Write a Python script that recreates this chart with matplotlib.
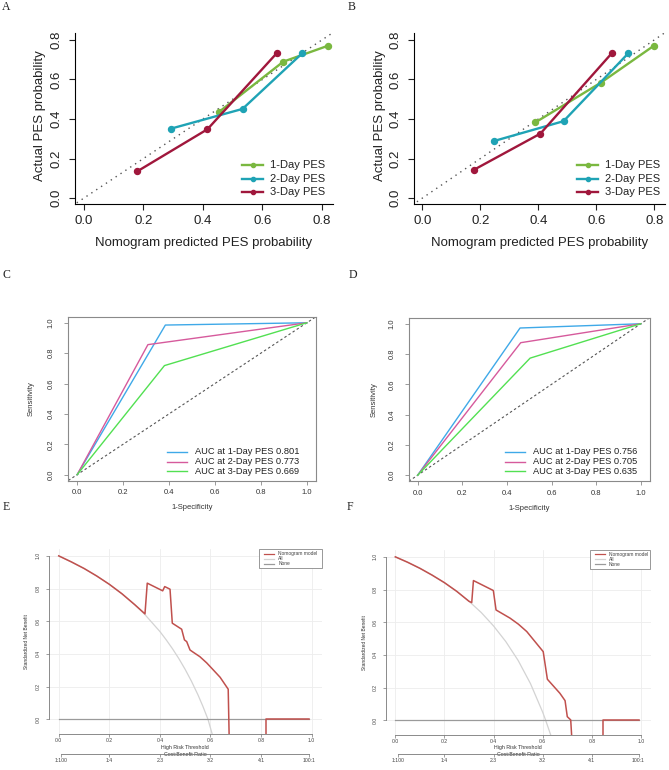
import matplotlib
matplotlib.use('Agg')
import matplotlib.pyplot as plt
from matplotlib.lines import Line2D
from matplotlib.patches import Rectangle

plt.rcParams['font.family'] = ['Liberation Sans', 'DejaVu Sans']

# ---------------- data ----------------
series_names = ['1-Day PES', '2-Day PES', '3-Day PES']

# Calibration, panel A
a_1d_x = [0.455, 0.670, 0.821]; a_1d_y = [0.437, 0.690, 0.771]
a_2d_x = [0.292, 0.533, 0.734]; a_2d_y = [0.351, 0.451, 0.733]
a_3d_x = [0.179, 0.415, 0.648]; a_3d_y = [0.135, 0.348, 0.733]
# Calibration, panel B
b_1d_x = [0.390, 0.616, 0.798]; b_1d_y = [0.383, 0.584, 0.770]
b_2d_x = [0.248, 0.487, 0.710]; b_2d_y = [0.289, 0.389, 0.732]
b_3d_x = [0.179, 0.407, 0.653]; b_3d_y = [0.144, 0.326, 0.732]
calib_ticks = [0.0, 0.2, 0.4, 0.6, 0.8]

# ROC, panel C
c_fpr = [[0, 0.384, 1], [0, 0.308, 1], [0, 0.380, 1]]
c_tpr = [[0, 0.985, 1], [0, 0.856, 1], [0, 0.718, 1]]
c_auc = ['0.801', '0.773', '0.669']
# ROC, panel D
d_fpr = [[0, 0.459, 1], [0, 0.462, 1], [0, 0.504, 1]]
d_tpr = [[0, 0.972, 1], [0, 0.875, 1], [0, 0.773, 1]]
d_auc = ['0.756', '0.705', '0.635']
roc_ticks = [0.0, 0.2, 0.4, 0.6, 0.8, 1.0]

# Decision curves, panel E
e_all_x = [0, 0.05, 0.1, 0.15, 0.2, 0.25, 0.3, 0.34, 0.4, 0.425, 0.45, 0.475, 0.5, 0.525, 0.55, 0.57, 0.59, 0.607]
e_all_y = [1.0, 0.963, 0.923, 0.877, 0.826, 0.768, 0.702, 0.642, 0.537, 0.486, 0.431, 0.371, 0.305, 0.232, 0.151, 0.079, 0.0, -0.092]
e_nom_x = [0, 0.05, 0.1, 0.15, 0.2, 0.25, 0.3, 0.341, 0.350, 0.411, 0.419, 0.440, 0.449, 0.486, 0.497,
           0.506, 0.519, 0.532, 0.558, 0.585, 0.611, 0.638, 0.670, 0.675]
e_nom_y = [1.0, 0.963, 0.923, 0.877, 0.826, 0.768, 0.702, 0.645, 0.833, 0.786, 0.812, 0.796, 0.588, 0.551, 0.486,
           0.475, 0.424, 0.410, 0.383, 0.345, 0.302, 0.257, 0.184, -0.20]
e_nom2_x = [0.818, 0.818, 0.99]
e_nom2_y = [-0.20, 0.0, 0.0]
# Decision curves, panel F
f_all_x = [0, 0.05, 0.1, 0.15, 0.2, 0.25, 0.3, 0.35, 0.4, 0.45, 0.5, 0.55, 0.6, 0.612, 0.633]
f_all_y = [1.0, 0.967, 0.930, 0.888, 0.842, 0.789, 0.728, 0.659, 0.577, 0.481, 0.366, 0.225, 0.049, 0.0, -0.092]
f_nom_x = [0, 0.05, 0.1, 0.15, 0.2, 0.25, 0.3, 0.311, 0.318, 0.399, 0.410, 0.467, 0.501, 0.535, 0.602,
           0.619, 0.670, 0.691, 0.700, 0.714, 0.722]
f_nom_y = [1.0, 0.967, 0.930, 0.888, 0.842, 0.789, 0.728, 0.720, 0.855, 0.794, 0.675, 0.625, 0.588, 0.543, 0.420,
           0.251, 0.165, 0.120, 0.022, 0.002, -0.20]
f_nom2_x = [0.847, 0.847, 0.99]
f_nom2_y = [-0.20, 0.0, 0.0]
none_x = [0, 0.99]; none_y = [0, 0]
dca_ticks = [0.0, 0.2, 0.4, 0.6, 0.8, 1.0]
cb_ticks = [0.01, 0.2, 0.4, 0.6, 0.8, 0.99]
cb_labels = ['1:100', '1:4', '2:3', '3:2', '4:1', '100:1']
dca_names = ['Nomogram model', 'All', 'None']

# ---------------- style ----------------
calib_colors = ['#7AB840', '#1FA3B5', '#A0173C']
roc_colors = ['#3FA9E8', '#D65A9C', '#52E052']
dca_colors = ['#C0504D', '#D3D3D3', '#9A9A9A']

W, H = 669, 770
fig = plt.figure(figsize=(W / 100, H / 100), dpi=100)


def add_ax(l, t, r, b):
    return fig.add_axes([l / W, 1 - b / H, (r - l) / W, (b - t) / H])


def fx(x):
    return x / W


def fy(y):
    return 1 - y / H


def rot_yticks(ax):
    for lab in ax.get_yticklabels():
        lab.set_rotation(90)
        lab.set_va('center')


# ---------------- calibration panels ----------------
def calib(box, xs, ys, xlim, ylabx, leg_x0):
    l, t, r, b = box
    ax = add_ax(l, t, r, b)
    ax.plot([-1, 2], [-1, 2], linestyle=(0, (1, 3.2)), color='#555555', lw=1.0)
    for x, y, col in zip(xs, ys, calib_colors):
        ax.plot(x, y, '-o', color=col, lw=1.7, ms=4.3)
    ax.set_xlim(xlim)
    ax.set_ylim(-0.030, 0.835)
    ax.spines['top'].set_visible(False)
    ax.spines['right'].set_visible(False)
    for s in ('left', 'bottom'):
        ax.spines[s].set_linewidth(0.8)
    ax.set_xticks(calib_ticks)
    ax.set_yticks(calib_ticks)
    ax.tick_params(labelsize=9.5, length=4, width=0.8, direction='out', colors='#222222')
    ax.tick_params(axis='x', pad=4)
    ax.tick_params(axis='y', pad=5)
    rot_yticks(ax)
    ax.set_xlabel('Nomogram predicted PES probability', fontsize=9.5, color='#222222')
    ax.xaxis.set_label_coords(0.5, (b - 243) / (b - t))
    ax.xaxis.label.set_va('center')
    ax.set_ylabel('Actual PES probability', fontsize=9.5, color='#222222')
    ax.yaxis.set_label_coords((ylabx - l) / (r - l), (b - 116) / (b - t))
    ax.yaxis.label.set_va('center')
    # legend
    for name, col, yy in zip(series_names, calib_colors, [165.3, 179.0, 191.7]):
        fig.add_artist(Line2D([fx(leg_x0), fx(leg_x0 + 21)], [fy(yy), fy(yy)], color=col, lw=1.7))
        fig.add_artist(Line2D([fx(leg_x0 + 10.5)], [fy(yy)], color=col, marker='o', ms=3.0))
        fig.text(fx(leg_x0 + 28), fy(yy), name, fontsize=8, va='center', ha='left', color='#222222')
    return ax


calib((75, 33, 333, 204), [a_1d_x, a_2d_x, a_3d_x], [a_1d_y, a_2d_y, a_3d_y], (-0.030, 0.837), 40, 242)
calib((414, 33, 665, 204), [b_1d_x, b_2d_x, b_3d_x], [b_1d_y, b_2d_y, b_3d_y], (-0.029, 0.837), 380, 577)


# ---------------- ROC panels ----------------
def roc(box, fprs, tprs, aucs, ylabx, leg_x0):
    l, t, r, b = box
    ax = add_ax(l, t, r, b)
    ax.plot([-1, 2], [-1, 2], linestyle=(0, (2.2, 2.2)), color='#555555', lw=0.8)
    for x, y, col in zip(fprs, tprs, roc_colors):
        ax.plot(x, y, '-', color=col, lw=1.0)
    ax.set_xlim(-0.04, 1.04)
    ax.set_ylim(-0.04, 1.04)
    for s in ax.spines.values():
        s.set_color('#8A8A8A')
        s.set_linewidth(0.8)
    ax.set_xticks(roc_ticks)
    ax.set_yticks(roc_ticks)
    ax.tick_params(labelsize=5.5, length=3, width=0.6, direction='out', colors='#8A8A8A',
                   labelcolor='#333333')
    ax.tick_params(axis='x', pad=3)
    ax.tick_params(axis='y', pad=6.5)
    rot_yticks(ax)
    ax.set_xlabel('1-Specificity', fontsize=5.5, color='#333333')
    ax.xaxis.set_label_coords(0.5, (b - 508) / (b - t))
    ax.xaxis.label.set_va('center')
    ax.set_ylabel('Sensitivity', fontsize=5.5, color='#333333')
    ax.yaxis.set_label_coords((ylabx - l) / (r - l), 0.5)
    ax.yaxis.label.set_va('center')
    for name, auc, col, yy in zip(series_names, aucs, roc_colors, [452.0, 461.7, 471.3]):
        fig.add_artist(Line2D([fx(leg_x0), fx(leg_x0 + 20)], [fy(yy), fy(yy)], color=col, lw=1.0))
        fig.text(fx(leg_x0 + 28), fy(yy), 'AUC at ' + name + ' ' + auc, fontsize=6.7,
                 va='center', ha='left', color='#222222')
    return ax


roc((68, 316.7, 316, 480.7), c_fpr, c_tpr, c_auc, 31, 167)
roc((408.7, 317.7, 649.7, 481.3), d_fpr, d_tpr, d_auc, 374, 505)


# ---------------- decision curve panels ----------------
def dca(box, all_x, all_y, nom_x, nom_y, nom2_x, nom2_y, ylabx, legbox):
    l, t, r, b = box
    ax = add_ax(l, t, r, b)
    ax.set_xlim(-0.04, 1.04)
    ax.set_ylim(-0.092, 1.042)
    ax.set_xticks(dca_ticks)
    ax.set_yticks(dca_ticks)
    ax.grid(True, color='#EDEDED', lw=0.6)
    ax.set_axisbelow(True)
    ax.plot(all_x, all_y, color=dca_colors[1], lw=0.9)
    ax.plot(none_x, none_y, color=dca_colors[2], lw=0.9)
    ax.plot(nom_x, nom_y, color=dca_colors[0], lw=1.1)
    ax.plot(nom2_x, nom2_y, color=dca_colors[0], lw=1.1)
    ax.spines['top'].set_visible(False)
    ax.spines['right'].set_visible(False)
    for s in ('left', 'bottom'):
        ax.spines[s].set_color('#777777')
        ax.spines[s].set_linewidth(0.6)
        ax.spines[s].set_bounds(0, 1)
    ax.tick_params(labelsize=3.7, length=2, width=0.5, direction='out', colors='#777777',
                   labelcolor='#444444')
    ax.tick_params(axis='x', pad=1)
    ax.tick_params(axis='y', pad=3.5)
    rot_yticks(ax)
    ax.set_xlabel('High Risk Threshold', fontsize=3.8, color='#333333')
    ax.xaxis.set_label_coords(0.5, (b - 747.7) / (b - t))
    ax.xaxis.label.set_va('center')
    ax.set_ylabel('Standardized Net Benefit', fontsize=3.5, color='#333333')
    ax.yaxis.set_label_coords((ylabx - l) / (r - l), 0.5)
    ax.yaxis.label.set_va('center')
    sec = ax.secondary_xaxis(-(754 - b) / (b - t))
    sec.set_xticks(cb_ticks)
    sec.set_xticklabels(cb_labels)
    sec.spines['bottom'].set_color('#777777')
    sec.spines['bottom'].set_linewidth(0.6)
    sec.spines['bottom'].set_bounds(0.01, 0.99)
    sec.tick_params(labelsize=3.7, length=2, width=0.5, colors='#777777', labelcolor='#444444', pad=1)
    sec.set_xlabel('Cost:Benefit Ratio', fontsize=3.8, color='#333333')
    sec.xaxis.set_label_coords(0.5, (b - 766) / (b - t))
    sec.xaxis.label.set_va('center')
    # legend
    lx0, ly0, lx1, ly1 = legbox
    fig.add_artist(Rectangle((fx(lx0), fy(ly1)), fx(lx1 - lx0), (ly1 - ly0) / H, fill=True,
                             facecolor='white', edgecolor='#888888', lw=0.6))
    for name, col, yy in zip(dca_names, dca_colors, [ly0 + 4.3, ly0 + 9.3, ly0 + 14.3]):
        fig.add_artist(Line2D([fx(lx0 + 5), fx(lx0 + 15)], [fy(yy), fy(yy)], color=col, lw=0.9))
        fig.text(fx(lx0 + 19), fy(yy), name, fontsize=3.5, va='center', ha='left', color='#444444')
    return ax


dca((48.6, 549, 321.8, 734.3), e_all_x, e_all_y, e_nom_x, e_nom_y, e_nom2_x, e_nom2_y, 26,
    (259.3, 549.3, 322, 568.3))
dca((385.5, 550, 650.8, 735.3), f_all_x, f_all_y, f_nom_x, f_nom_y, f_nom2_x, f_nom2_y, 364.3,
    (590, 550, 650.3, 569))

# ---------------- panel letters ----------------
for letter, (px, py) in zip('ABCDEF', [(6.5, 7), (351.5, 7), (6, 275), (353, 275), (6, 507), (350, 507)]):
    fig.text(fx(px), fy(py), letter, fontsize=8.5, family=['Liberation Serif', 'DejaVu Serif'],
             ha='center', va='center', color='#222222')

fig.savefig('out.png', dpi=100, facecolor='white')
